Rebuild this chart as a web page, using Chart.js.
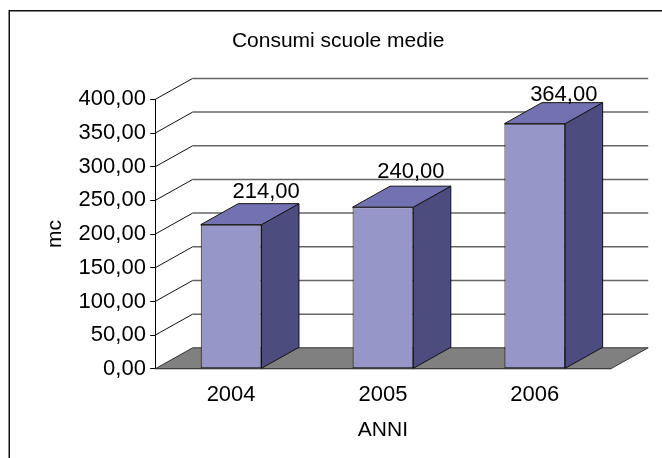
<!DOCTYPE html>
<html>
<head>
<meta charset="utf-8">
<style>
  html, body { margin: 0; padding: 0; background: #fff; }
  canvas { display: block; }
</style>
<script src="https://cdn.jsdelivr.net/npm/chart.js@4"></script>
</head>
<body>
<canvas id="consumi" width="662" height="458"></canvas>
<script>
const anni = ["2004", "2005", "2006"];
const consumi = [214, 240, 364];
const tickStep = 50;
const tickMax = 400;

// depth of the fake 3D box, in pixels
const depthX = 37.5;
const depthY = -21;

// the label boxes sit a bit irregularly above each column
const labelShiftX = [35, 28, 29];
const labelShiftY = [-6, -8.5, -1.5];

const fmt = (v) => v.toFixed(2).replace(".", ",");
const fontFamily = '"Liberation Sans", Arial, sans-serif';
const fontSize = 22;
const titleSize = 21;

const poly = (ctx, pts, fill, stroke) => {
  ctx.beginPath();
  pts.forEach((p, i) => (i ? ctx.lineTo(p[0], p[1]) : ctx.moveTo(p[0], p[1])));
  ctx.closePath();
  ctx.fillStyle = fill;
  ctx.fill();
  ctx.strokeStyle = stroke;
  ctx.lineWidth = 1;
  ctx.stroke();
};

const box3d = {
  id: "box3d",
  afterLayout(chart) {
    // chart title is centred on the whole box, not the padded canvas
    chart.titleBlock.left += 11.5;
    chart.titleBlock.right += 11.5;
  },
  beforeDraw(chart) {
    const { ctx, width, height } = chart;
    ctx.save();
    ctx.fillStyle = "#fff";
    ctx.fillRect(0, 0, width, height);
    // outer frame runs off the right and bottom of the page
    ctx.strokeStyle = "#111";
    ctx.lineWidth = 1.5;
    ctx.beginPath();
    ctx.moveTo(9.25, height);
    ctx.lineTo(9.25, 10.75);
    ctx.lineTo(width, 10.75);
    ctx.stroke();
    ctx.restore();
  },
  beforeDatasetsDraw(chart) {
    const { ctx, chartArea: a, scales } = chart;
    const y0 = scales.y.getPixelForValue(0);
    ctx.save();

    // side wall diagonals and back wall grid
    scales.y.ticks.forEach((t) => {
      const py = scales.y.getPixelForValue(t.value);
      if (t.value > 0) {
        ctx.strokeStyle = "#111";
        ctx.lineWidth = 1;
        ctx.beginPath();
        ctx.moveTo(a.left, py);
        ctx.lineTo(a.left + depthX, py + depthY);
        ctx.stroke();
        ctx.strokeStyle = "#666";
        ctx.lineWidth = 1.5;
        ctx.beginPath();
        ctx.moveTo(a.left + depthX, py + depthY);
        ctx.lineTo(a.right + depthX, py + depthY);
        ctx.stroke();
      }
    });

    // floor
    poly(
      ctx,
      [
        [a.left, y0],
        [a.left + depthX, y0 + depthY],
        [a.right + depthX, y0 + depthY],
        [a.right, y0],
      ],
      "#808080",
      "#333"
    );

    // column side and top faces, the front comes from the bar element
    chart.getDatasetMeta(0).data.forEach((bar) => {
      const l = bar.x - bar.width / 2;
      const r = bar.x + bar.width / 2;
      poly(
        ctx,
        [
          [r, bar.y],
          [r + depthX, bar.y + depthY],
          [r + depthX, bar.base + depthY],
          [r, bar.base],
        ],
        "#4c4c7e",
        "#111"
      );
      poly(
        ctx,
        [
          [l, bar.y],
          [l + depthX, bar.y + depthY],
          [r + depthX, bar.y + depthY],
          [r, bar.y],
        ],
        "#7272b2",
        "#111"
      );
    });
    ctx.restore();
  },
  afterDatasetsDraw(chart) {
    const { ctx } = chart;
    ctx.save();
    ctx.fillStyle = "#000";
    ctx.font = `${fontSize}px ${fontFamily}`;
    ctx.textAlign = "center";
    ctx.textBaseline = "alphabetic";
    chart.getDatasetMeta(0).data.forEach((bar, i) => {
      ctx.fillText(
        fmt(consumi[i]),
        bar.x + labelShiftX[i],
        bar.y + depthY + labelShiftY[i]
      );
    });
    ctx.restore();
  },
};

new Chart(document.getElementById("consumi").getContext("2d"), {
  type: "bar",
  data: {
    labels: anni,
    datasets: [
      {
        label: "Consumi",
        data: consumi,
        backgroundColor: "#9696c8",
        borderColor: "#111",
        borderWidth: 1,
        borderSkipped: false,
        barPercentage: 0.4,
        categoryPercentage: 1,
      },
    ],
  },
  options: {
    responsive: false,
    animation: false,
    devicePixelRatio: 1,
    layout: { padding: { left: 42.5, right: 51.3, top: 8, bottom: 15.6 } },
    plugins: {
      legend: { display: false },
      tooltip: { enabled: false },
      title: {
        display: true,
        text: "Consumi scuole medie",
        color: "#000",
        font: { family: fontFamily, size: titleSize, weight: "normal" },
        padding: { top: 21, bottom: 45.2 },
      },
    },
    scales: {
      x: {
        grid: { display: false },
        border: { display: true, color: "#000", width: 1 },
        ticks: {
          color: "#000",
          padding: 5,
          maxRotation: 0,
          font: { family: fontFamily, size: fontSize },
        },
        title: {
          display: true,
          text: "ANNI",
          color: "#000",
          padding: { top: 4, bottom: 0 },
          font: { family: fontFamily, size: titleSize },
        },
      },
      y: {
        min: 0,
        max: tickMax,
        grid: { drawOnChartArea: false, color: "#000", tickLength: 5 },
        border: { display: true, color: "#000", width: 1 },
        ticks: {
          stepSize: tickStep,
          color: "#000",
          padding: 4.3,
          font: { family: fontFamily, size: fontSize },
          callback: (v) => fmt(v),
        },
        title: {
          display: true,
          text: "mc",
          color: "#000",
          padding: { top: 0, bottom: 6.6 },
          font: { family: fontFamily, size: titleSize },
        },
      },
    },
  },
  plugins: [box3d],
});
</script>
</body>
</html>
